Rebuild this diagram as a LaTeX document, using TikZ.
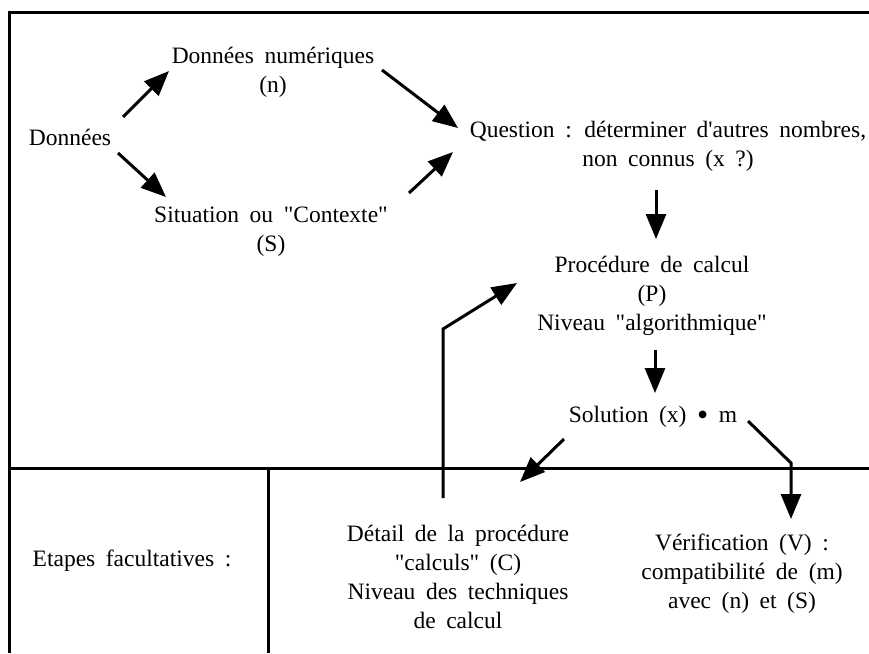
\documentclass[tikz,border=0pt]{standalone}
\usepackage{fontspec}
\setmainfont{Liberation Serif}[Ligatures=TeXOff,WordSpace=1.8]
\usetikzlibrary{arrows.meta,calc}
\newcommand{\bigdot}{{\fontsize{32}{29}\selectfont\raisebox{-2.5pt}{•}}}
\begin{document}
\begin{tikzpicture}[x=1pt,y=-1pt,
  lbl/.style={inner sep=0pt,align=center,font=\fontsize{23.5}{29}\selectfont},
  conn/.style={line width=3pt,-{Triangle[length=25pt,width=20pt]}},
  rule/.style={line width=3pt}]
\useasboundingbox (0,0) rectangle (869,653);
% frame
\draw[rule] (9,653) -- (9,12) -- (869,12);
\draw[rule] (9,468) -- (869,468);
\draw[rule] (268,468) -- (268,653);
% texts
\node[lbl] (donnees) at (70,137) {Données};
\node[lbl] (num) at (273,72.5) {Données numériques\\(n)};
\node[lbl] (sit) at (271,231.5) {Situation ou "Contexte"\\(S)};
\node[lbl] (quest) at (668,146.5) {Question : déterminer d'autres nombres,\\non connus (x ?)};
\node[lbl] (proc) at (652,296) {Procédure de calcul\\(P)\\Niveau "algorithmique"};
\node[lbl] (sol) at (653,417) {Solution (x) \bigdot{} m};
\node[lbl] (detail) at (458,576.5) {Détail de la procédure\\"calculs" (C)\\Niveau des techniques\\de calcul};
\node[lbl] (verif) at (742,573.5) {Vérification (V) :\\compatibilité de (m)\\avec (n) et (S)};
\node[lbl] (etapes) at (132,561) {Etapes facultatives :};
% connectors
\draw[conn] ($(donnees.center)+(53,-20)$) -- ($(num.center)+(-104,-1.5)$);
\draw[conn] ($(donnees.center)+(48,16)$) -- ($(sit.center)+(-105,-34.5)$);
\draw[conn] ($(num.center)+(109,-2.5)$) -- ($(quest.center)+(-210,-18.5)$);
\draw[conn] ($(sit.center)+(138,-38.5)$) -- ($(quest.center)+(-215,5.5)$);
\draw[conn] ($(quest.center)+(-12,43.5)$) -- ($(proc.center)+(4,-57)$);
\draw[conn] ($(proc.center)+(3,54)$) -- ($(sol.center)+(2,-24)$);
\draw[conn] ($(sol.center)+(-89,22)$) -- ($(detail.center)+(62,-94.5)$);
\coordinate (vcorner) at (791,463);
\draw[conn] ($(sol.center)+(95,4)$) -- (vcorner) -- ($(verif.center)+(49,-54.5)$);
\coordinate (dcorner) at (443,329);
\draw[conn] ($(detail.center)+(-15,-78.5)$) -- (dcorner) -- ($(proc.center)+(-135,-13)$);
\end{tikzpicture}
\end{document}
